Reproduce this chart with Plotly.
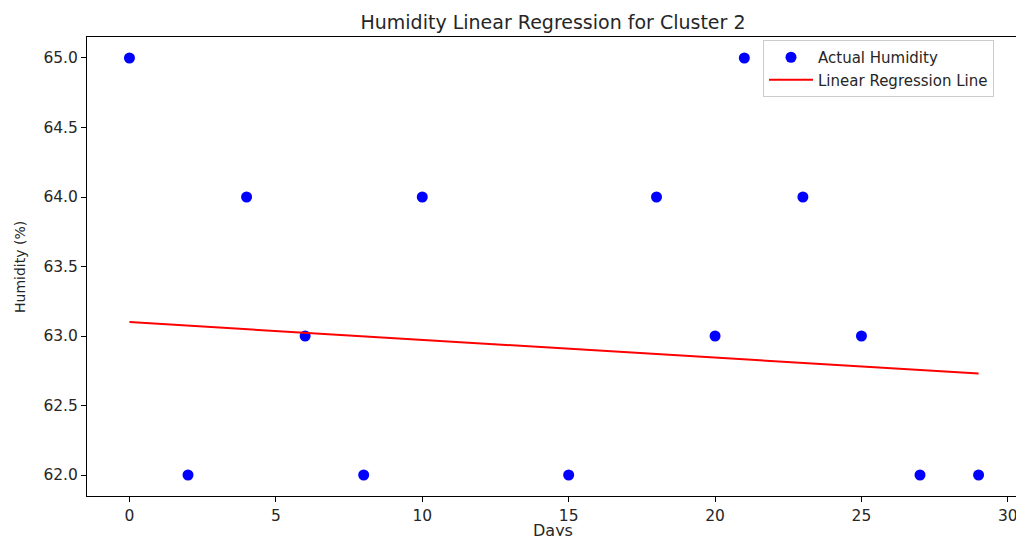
import plotly.graph_objects as go

# Data
days = [0, 2, 4, 6, 8, 10, 15, 18, 20, 21, 23, 25, 27, 29]
humidity = [65, 62, 64, 63, 62, 64, 62, 64, 63, 65, 64, 63, 62, 62]
line_days = [0, 29]
line_humidity = [63.10, 62.73]

x_ticks = [0, 5, 10, 15, 20, 25, 30]
y_ticks = [62.0, 62.5, 63.0, 63.5, 64.0, 64.5, 65.0]

FONT = "DejaVu Sans"
TXT = "#262626"

PL, PT, PB = 87, 37, 40
PW = 1016 - PL
PH = 536 - PT - PB

fig = go.Figure()
fig.add_trace(go.Scatter(
    x=days, y=humidity, mode="markers", name="Actual Humidity",
    marker=dict(color="#0000ff", size=11, line=dict(width=0)),
))
fig.add_trace(go.Scatter(
    x=line_days, y=line_humidity, mode="lines", name="Linear Regression Line",
    line=dict(color="#ff0000", width=2),
))

fig.update_layout(
    width=1016, height=536,
    margin=dict(l=PL, r=0, t=PT, b=PB, autoexpand=False),
    paper_bgcolor="white", plot_bgcolor="white",
    font=dict(family=FONT, color=TXT),
    title=dict(text="Humidity Linear Regression for Cluster 2",
               font=dict(size=19, family=FONT, color=TXT),
               x=553 / 1016, xref="container", xanchor="center",
               y=1 - 22 / 536, yref="container", yanchor="middle"),
    showlegend=True,
    legend=dict(x=(763 - PL) / PW, y=(PT + PH - 40) / PH,
                xanchor="left", yanchor="top",
                bordercolor="#cccccc", borderwidth=1, bgcolor="white",
                font=dict(size=15, family=FONT, color=TXT),
                itemwidth=44, tracegroupgap=0),
    annotations=[
        dict(text="Days", xref="paper", yref="paper",
             x=(553 - PL) / PW, y=-(530 - (PT + PH)) / PH,
             xanchor="center", yanchor="middle", showarrow=False,
             font=dict(size=16, family=FONT, color=TXT)),
        dict(text="Humidity (%)", xref="paper", yref="paper",
             x=(20 - PL) / PW, y=(PT + PH - 267) / PH, textangle=-90,
             xanchor="center", yanchor="middle", showarrow=False,
             font=dict(size=14, family=FONT, color=TXT)),
    ],
)

fig.update_xaxes(
    range=[-1.45, -1.45 + PW / 29.28],
    tickmode="array", tickvals=x_ticks, ticktext=[str(v) for v in x_ticks],
    showgrid=False, zeroline=False,
    showline=True, linecolor="black", linewidth=1, mirror=True,
    ticks="outside", ticklen=5, tickcolor="black", tickwidth=1,
    ticklabeloverflow="allow",
    tickfont=dict(size=15.5, family=FONT, color=TXT),
)
fig.update_yaxes(
    range=[61.849, 65.151],
    tickmode="array", tickvals=y_ticks, ticktext=[f"{v:.1f}" for v in y_ticks],
    showgrid=False, zeroline=False,
    showline=True, linecolor="black", linewidth=1, mirror=False,
    ticks="outside", ticklen=5, tickcolor="black", tickwidth=1,
    tickfont=dict(size=15.5, family=FONT, color=TXT),
)

fig.write_html("out.html")
